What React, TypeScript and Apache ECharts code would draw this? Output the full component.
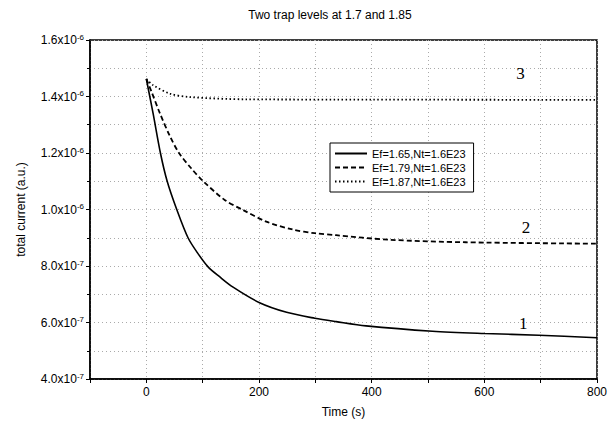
import React, { useEffect, useRef } from "react";
import * as echarts from "echarts";

const title = "Two trap levels at 1.7 and 1.85";
const seriesNames = ["Ef=1.65,Nt=1.6E23", "Ef=1.79,Nt=1.6E23", "Ef=1.87,Nt=1.6E23"];

const t1 = [0, 12, 25, 37, 54, 74, 92, 110, 130, 154, 201, 249, 299, 337, 390, 508, 600, 697, 800];
const v1 = [1.462, 1.34, 1.2, 1.1, 1.0, 0.9, 0.843, 0.796, 0.762, 0.725, 0.67, 0.636, 0.615, 0.603, 0.588, 0.569, 0.561, 0.555, 0.546];

const t2 = [0, 9, 24, 42, 58, 80, 101, 139, 172, 213, 260, 299, 337, 431, 567, 800];
const v2 = [1.462, 1.418, 1.341, 1.259, 1.2, 1.145, 1.1, 1.034, 0.998, 0.957, 0.929, 0.916, 0.909, 0.893, 0.884, 0.879];

const t3 = [0, 12, 42, 77, 178, 400, 800];
const v3 = [1.462, 1.44, 1.41, 1.398, 1.39, 1.389, 1.388];

const curveLabels = ["1", "2", "3"];
const labelT = [669, 674, 664];
const labelV = [0.598, 0.938, 1.483];

const toPairs = (ts: number[], vs: number[]) => ts.map((t, i) => [t, vs[i] * 1e-6]);

const fmtY = (v: number) => {
  const val = Number(v.toPrecision(6));
  const exp = Math.floor(Math.log10(val) + 1e-9);
  const mant = (val / Math.pow(10, exp)).toFixed(1);
  return `{a|${mant}x10}{b|${exp}}`;
};

export default function App() {
  const ref = useRef<HTMLDivElement>(null);
  useEffect(() => {
    if (!ref.current) return;
    document.body.style.margin = "0";
    const chart = echarts.init(ref.current, null, { renderer: "svg" });
    const dashTypes: any[] = ["solid", [5, 3], [1.5, 2.5]];
    const datasets = [toPairs(t1, v1), toPairs(t2, v2), toPairs(t3, v3)];
    chart.setOption({
      animation: false,
      backgroundColor: "#fff",
      title: {
        text: title,
        left: 325,
        top: 4,
        textAlign: "center",
        textStyle: { fontFamily: "Liberation Sans, Arial", fontSize: 12, fontWeight: "normal", color: "#000" },
      },
      legend: {
        orient: "vertical",
        left: 330,
        top: 143,
        padding: [5, 8, 5, 4],
        itemGap: 3,
        itemWidth: 32,
        itemHeight: 10,
        borderColor: "#000",
        borderWidth: 1,
        backgroundColor: "#fff",
        itemStyle: { opacity: 0 },
        data: seriesNames,
        textStyle: { fontFamily: "Liberation Sans, Arial", fontSize: 11, color: "#000" },
      },
      grid: {
        left: 90,
        right: 12,
        top: 40,
        bottom: 46,
        show: true,
        borderColor: "#000",
        borderWidth: 1.5,
      },
      xAxis: {
        type: "value",
        min: -100,
        max: 800,
        interval: 100,
        name: "Time (s)",
        nameLocation: "middle",
        nameGap: 27,
        nameTextStyle: { fontFamily: "Liberation Sans, Arial", fontSize: 12, color: "#000" },
        axisLine: { show: true, onZero: false, lineStyle: { color: "#000", width: 1.5 } },
        axisTick: { show: true, length: 4, lineStyle: { color: "#000" } },
        axisLabel: {
          color: "#000",
          fontFamily: "Liberation Sans, Arial",
          fontSize: 12,
          margin: 7,
          formatter: (v: number) => (Math.round(v) % 200 === 0 ? String(Math.round(v)) : ""),
        },
        splitLine: { show: true, lineStyle: { color: "#aaa", type: [1, 3], width: 1 } },
      },
      yAxis: {
        type: "value",
        min: 4e-7,
        max: 1.6e-6,
        interval: 2e-7,
        name: "total current (a.u.)",
        nameLocation: "middle",
        nameGap: 63,
        nameTextStyle: { fontFamily: "Liberation Sans, Arial", fontSize: 12, color: "#000" },
        axisLine: { show: true, onZero: false, lineStyle: { color: "#000", width: 1.5 } },
        axisTick: { show: true, length: 4, lineStyle: { color: "#000" } },
        minorTick: { show: true, splitNumber: 2, length: 3, lineStyle: { color: "#000" } },
        minorSplitLine: { show: true, lineStyle: { color: "#aaa", type: [1, 3], width: 1 } },
        splitLine: { show: true, lineStyle: { color: "#aaa", type: [1, 3], width: 1 } },
        axisLabel: {
          color: "#000",
          margin: 6,
          formatter: fmtY,
          rich: {
            a: { fontFamily: "Liberation Sans, Arial", fontSize: 12, color: "#000" },
            b: { fontFamily: "Liberation Sans, Arial", fontSize: 8, color: "#000", verticalAlign: "top", padding: [0, 0, 6, 0] },
          },
        },
      },
      series: seriesNames.map((name, i) => ({
        name,
        type: "line",
        data: datasets[i],
        showSymbol: false,
        symbol: "none",
        smooth: 0.3,
        color: "#000",
        lineStyle: { color: "#000", width: i === 0 ? 1.6 : 1.8, type: dashTypes[i] },
        markPoint: {
          symbol: "circle",
          symbolSize: 0,
          data: [
            {
              coord: [labelT[i], labelV[i] * 1e-6],
              label: {
                show: true,
                formatter: curveLabels[i],
                color: "#000",
                fontFamily: "Liberation Serif, Times New Roman",
                fontSize: 17,
                position: "inside",
              },
            },
          ],
        },
      })),
    });
    return () => chart.dispose();
  }, []);
  return <div ref={ref} style={{ width: 610, height: 425 }} />;
}
